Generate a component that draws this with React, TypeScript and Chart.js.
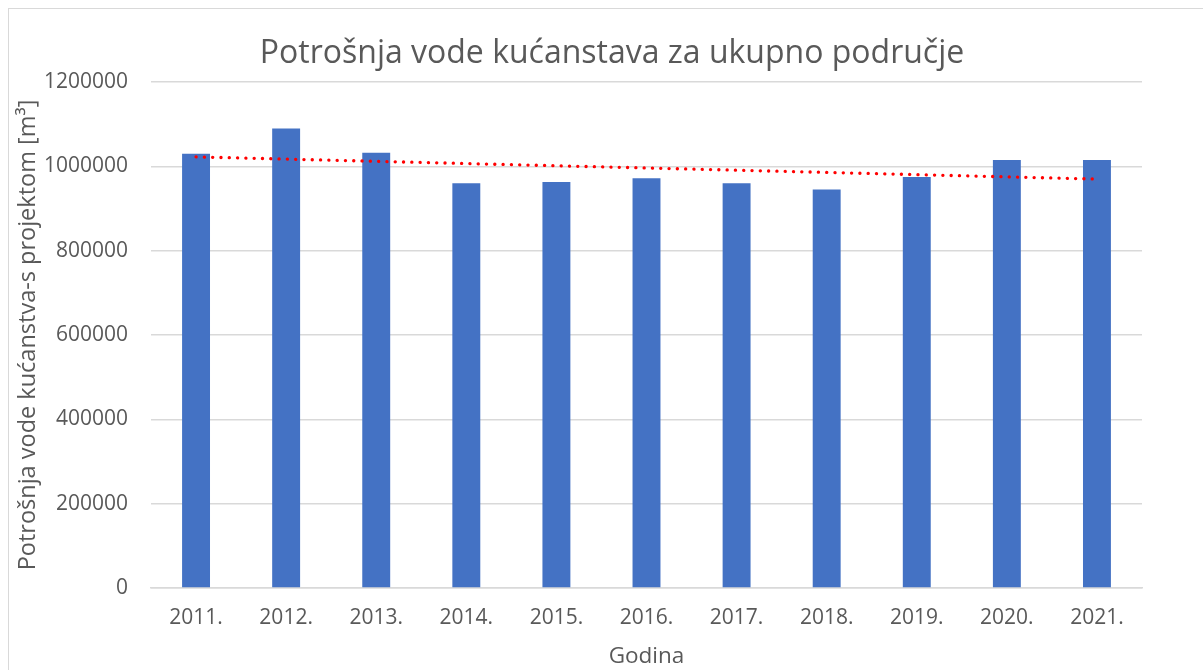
import React, { useEffect, useRef } from "react";
import { Chart, registerables } from "chart.js";

Chart.register(...registerables);

const categories = ["2011.", "2012.", "2013.", "2014.", "2015.", "2016.", "2017.", "2018.", "2019.", "2020.", "2021."];
const consumption = [1030000, 1090000, 1032000, 960000, 963000, 972000, 960000, 945000, 975000, 1015000, 1015000];
const yTicks = [0, 200000, 400000, 600000, 800000, 1000000, 1200000];

const titleText = "Potrošnja vode kućanstava za ukupno područje";
const yTitle = "Potrošnja vode kućanstva-s projektom [m³]";
const xTitle = "Godina";

// Linear (least-squares) trendline, like Excel's trendline
function linearTrend(values: number[]): number[] {
  const n = values.length;
  const mx = (n - 1) / 2;
  const my = values.reduce((a, b) => a + b, 0) / n;
  let sxy = 0;
  let sxx = 0;
  values.forEach((v, i) => {
    sxy += (i - mx) * (v - my);
    sxx += (i - mx) * (i - mx);
  });
  const slope = sxy / sxx;
  return values.map((_, i) => my + slope * (i - mx));
}

const FONT = "'Open Sans', 'Noto Sans', sans-serif";
const TEXT = "#595959";
const GRID = "#d9d9d9";

export default function App() {
  const ref = useRef<HTMLCanvasElement | null>(null);

  useEffect(() => {
    if (!ref.current) return;
    const chart = new Chart(ref.current, {
      type: "bar",
      data: {
        labels: categories,
        datasets: [
          {
            type: "line",
            label: "Trend",
            data: linearTrend(consumption),
            borderColor: "#ff0000",
            borderWidth: 3.3,
            borderDash: [0.1, 8.2],
            borderCapStyle: "round",
            pointRadius: 0,
            fill: false,
            order: 0,
          } as any,
          {
            type: "bar",
            label: "Potrošnja",
            data: consumption,
            backgroundColor: "#4472c4",
            borderWidth: 0,
            categoryPercentage: 1,
            barPercentage: 0.31,
            order: 1,
          },
        ],
      },
      options: {
        animation: false,
        responsive: false,
        maintainAspectRatio: false,
        layout: { padding: { left: 0, right: 0, top: 0, bottom: 0 } },
        plugins: {
          legend: { display: false },
          tooltip: { enabled: false },
          title: {
            display: true,
            text: titleText,
            color: TEXT,
            font: { family: FONT, size: 32, weight: "normal" },
            padding: { top: 26, bottom: 8.6 },
          },
        },
        scales: {
          x: {
            grid: { display: false, drawTicks: false },
            border: { display: true, color: GRID, width: 1.5 },
            ticks: {
              color: TEXT,
              font: { family: FONT, size: 21 },
              padding: 17,
              maxRotation: 0,
            },
            title: {
              display: true,
              text: xTitle,
              color: TEXT,
              font: { family: FONT, size: 22.5 },
              padding: { top: 0, bottom: 0 },
            },
            afterFit: (axis: any) => {
              axis.height = 82;
            },
          },
          y: {
            min: 0,
            max: 1200000,
            afterBuildTicks: (axis: any) => {
              axis.ticks = yTicks.map((v) => ({ value: v }));
            },
            grid: { color: GRID, lineWidth: 1.5, drawTicks: false },
            border: { display: false },
            ticks: {
              color: TEXT,
              font: { family: FONT, size: 21 },
              padding: 23,
              callback: (v: any) => String(v),
            },
            title: {
              display: true,
              text: yTitle,
              color: TEXT,
              font: { family: FONT, size: 23.5 },
              padding: { top: 5, bottom: 0 },
            },
            afterFit: (axis: any) => {
              axis.width = 142;
            },
          },
          // empty right-hand spacer so the title centres like the original
          yRight: {
            position: "right",
            display: true,
            min: 0,
            max: 1,
            grid: { display: false, drawTicks: false },
            border: { display: false },
            ticks: { display: false },
            afterFit: (axis: any) => {
              axis.width = 73;
            },
          },
        },
      },
    });
    return () => chart.destroy();
  }, []);

  return (
    <div
      style={{
        position: "fixed",
        left: 8,
        top: 8,
        width: 1195,
        height: 662,
        overflow: "hidden",
        borderTop: `1px solid ${GRID}`,
        borderLeft: `1px solid ${GRID}`,
        background: "#fff",
      }}
    >
      <canvas ref={ref} width={1206} height={661} style={{ display: "block" }} />
    </div>
  );
}
